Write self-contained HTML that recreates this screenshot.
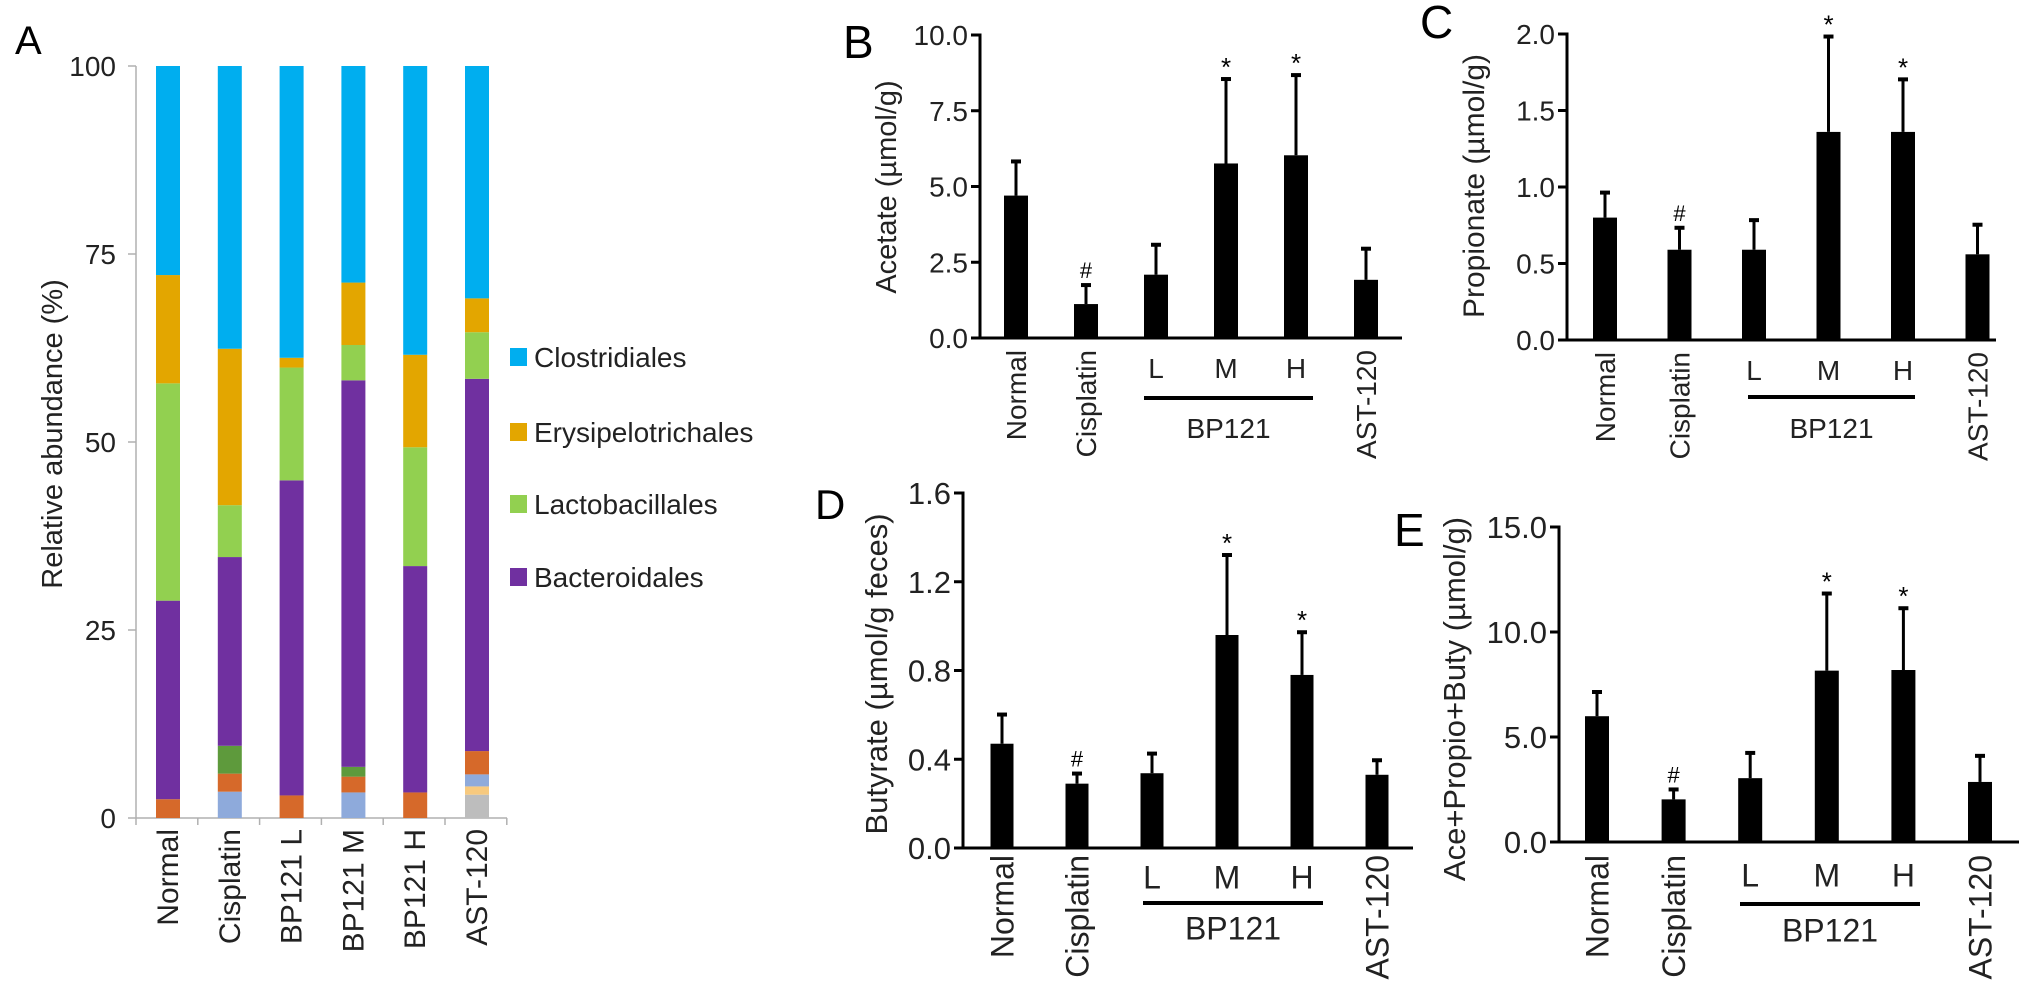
<!DOCTYPE html>
<html><head><meta charset="utf-8">
<style>
html,body{margin:0;padding:0;background:#fff;}
svg{display:block;font-family:"Liberation Sans",Arial,sans-serif;}
</style></head>
<body>
<svg id="fig" width="2032" height="1000" viewBox="0 0 2032 1000" xmlns="http://www.w3.org/2000/svg">
<rect width="2032" height="1000" fill="#fff"/>
</svg>
<script>
// ===== Panel A data (stacked %, bottom to top) =====
const aGroups = ["Normal","Cisplatin","BP121 L","BP121 M","BP121 H","AST-120"];
const aGray      = [0,0,0,0,0,3.1];
const aPeach     = [0,0,0,0,0,1.1];
const aLightBlue = [0,3.5,0,3.4,0,1.6];
const aOrange    = [2.5,2.4,3.0,2.1,3.4,3.1];
const aDarkGreen = [0,3.7,0,1.3,0,0];
const aBacteroidales   = [26.4,25.1,41.9,51.4,30.1,49.5];
const aLactobacillales = [28.9,6.9,15.0,4.7,15.8,6.2];
const aErysipelo       = [14.4,20.8,1.3,8.3,12.3,4.5];
const aClostridiales   = [27.8,37.6,38.8,28.8,38.4,30.9];
const aTicks = [0,25,50,75,100];
const aLegend = ["Clostridiales","Erysipelotrichales","Lactobacillales","Bacteroidales"];

// ===== Panels B-E data =====
const barGroups = ["Normal","Cisplatin","L","M","H","AST-120"];
const bMeans = [4.7,1.12,2.09,5.76,6.03,1.92];
const bErr   = [5.86,1.78,3.11,8.58,8.71,2.98];
const bMarks = ["","#","","*","*",""];
const bTicks = [0,2.5,5,7.5,10];
const bTickLabels = ["0.0","2.5","5.0","7.5","10.0"];

const cMeans = [0.80,0.59,0.59,1.36,1.36,0.56];
const cErr   = [0.97,0.74,0.79,1.99,1.71,0.76];
const cMarks = ["","#","","*","*",""];
const cTicks = [0,0.5,1,1.5,2];
const cTickLabels = ["0.0","0.5","1.0","1.5","2.0"];

const dMeans = [0.47,0.29,0.337,0.96,0.78,0.33];
const dErr   = [0.606,0.34,0.43,1.325,0.977,0.40];
const dMarks = ["","#","","*","*",""];
const dTicks = [0,0.4,0.8,1.2,1.6];
const dTickLabels = ["0.0","0.4","0.8","1.2","1.6"];

const eMeans = [5.99,2.03,3.04,8.16,8.19,2.86];
const eErr   = [7.19,2.55,4.29,11.88,11.18,4.15];
const eMarks = ["","#","","*","*",""];
const eTicks = [0,5,10,15];
const eTickLabels = ["0.0","5.0","10.0","15.0"];

const NS="http://www.w3.org/2000/svg";
const svg=document.getElementById('fig');
function mk(tag,attrs,parent){const e=document.createElementNS(NS,tag);for(const k in attrs)e.setAttribute(k,attrs[k]);(parent||svg).appendChild(e);return e;}

// ===== Panel A =====
(function(){
  const g=mk('g',{});
  
  
  const ax=136, y0=818, y100=66, x0=137, step=61.8, bw=24;
  const yA=v=>y0-(y100-y0)*-v/100;
  const xA=i=>168+i*step;
  const L=mk('text',{x:15,y:54,'font-size':40,fill:'#000'},g);L.textContent='A';
  
  
  const yl=mk('line',{x1:ax,y1:y100,x2:ax,y2:y0,stroke:'#b0b0b0','stroke-width':1.5},g);
  
  
  const xl=mk('line',{x1:ax,y1:y0,x2:507,y2:y0,stroke:'#b0b0b0','stroke-width':1.5},g);
  
  
  aTicks.forEach(t=>{
    const y=yA(t);
    mk('line',{x1:ax-8,y1:y,x2:ax,y2:y,stroke:'#b0b0b0','stroke-width':1.5},g);
    const tx=mk('text',{x:116,y:y+10,'font-size':28,'text-anchor':'end',fill:'#222'},g);tx.textContent=t;
    
    
  });
  for(let i=0;i<=aGroups.length;i++){const x=ax+i*step;mk('line',{x1:x,y1:y0,x2:x,y2:y0+7,stroke:'#b0b0b0','stroke-width':1.5},g);}
  const yt=mk('text',{transform:'translate(62,434) rotate(-90)','font-size':29,'text-anchor':'middle',fill:'#222'},g);
  yt.textContent='Relative abundance (%)';
  
  
  const series=[[aGray,'#bdbdbd'],[aPeach,'#f7c97e'],[aLightBlue,'#8eaadb'],[aOrange,'#d6692a'],[aDarkGreen,'#5e9a3c'],[aBacteroidales,'#7030a0'],[aLactobacillales,'#92d050'],[aErysipelo,'#e3a600'],[aClostridiales,'#00aeef']];
  aGroups.forEach((name,i)=>{
    let cum=0;
    series.forEach(([arr,col])=>{
      const v=arr[i]; if(v<=0)return;
      const r=mk('rect',{x:xA(i)-bw/2,y:yA(cum+v),width:bw,height:yA(cum)-yA(cum+v),fill:col},g);
      
      
      cum+=v;
    });
    const t=mk('text',{transform:`translate(${xA(i)+10},829) rotate(-90)`,'font-size':30,'text-anchor':'end',fill:'#222'},g);
    t.textContent=name;
    
    
  });
  const lc=['#00aeef','#e3a600','#92d050','#7030a0'];
  const ly=[357,432,504,577];
  aLegend.forEach((n,i)=>{
    const lg=mk('g',{},g);
    
    
    mk('rect',{x:510,y:ly[i]-9,width:17,height:18,fill:lc[i]},lg);
    const t=mk('text',{x:534,y:ly[i]+10,'font-size':28,fill:'#222'},lg);t.textContent=n;
  });
})();

// ===== Bar panels =====
function barPanel(cfg,means,errs,marks,ticks,tickLabels){
  const g=mk('g',{});
  
  
  const y=v=>cfg.y0-(cfg.y0-cfg.yTop)*v/cfg.max;
  const x=i=>cfg.x0+i*cfg.step;
  const L=mk('text',{x:cfg.lx,y:cfg.ly,'font-size':cfg.lf,fill:'#000'},g);L.textContent=cfg.letter;
  
  
  const ya=mk('line',{x1:cfg.ax,y1:cfg.yTop-1.5,x2:cfg.ax,y2:cfg.y0,stroke:'#000','stroke-width':3},g);
  
  
  const xa=mk('line',{x1:cfg.ax-8,y1:cfg.y0,x2:cfg.xEnd,y2:cfg.y0,stroke:'#000','stroke-width':3},g);
  
  
  ticks.forEach((t,k)=>{
    const yy=y(t);
    mk('line',{x1:cfg.ax-9,y1:yy,x2:cfg.ax,y2:yy,stroke:'#000','stroke-width':3},g);
    const tx=mk('text',{x:cfg.ax-12,y:yy+cfg.tf*0.36,'font-size':cfg.tf,'text-anchor':'end',fill:'#222'},g);
    tx.textContent=tickLabels[k];
    
    
  });
  const yt=mk('text',{transform:`translate(${cfg.tx},${cfg.ty}) rotate(-90)`,'font-size':cfg.titleF,'text-anchor':'middle',fill:'#222'},g);
  yt.textContent=cfg.title;
  
  
  means.forEach((m,i)=>{
    const cx=x(i);
    const b=mk('rect',{x:cx-cfg.bw/2,y:y(m),width:cfg.bw,height:cfg.y0-y(m),fill:'#000'},g);
    
    
    const e=mk('line',{x1:cx,y1:y(m),x2:cx,y2:y(errs[i]),stroke:'#000','stroke-width':3},g);
    
    
    mk('line',{x1:cx-5,y1:y(errs[i])+1,x2:cx+5,y2:y(errs[i])+1,stroke:'#000','stroke-width':4},g);
    if(marks[i]){
      const s=mk('text',{x:cx,y:y(errs[i])-(marks[i]==='*'?2:6),'font-size':marks[i]==='*'?26:22,'text-anchor':'middle',fill:'#000'},g);
      s.textContent=marks[i];
      
      
    }
    if(i>=2&&i<=4){
      const t=mk('text',{x:cx,y:cfg.lmhY+cfg.xf*0.36,'font-size':cfg.xf,'text-anchor':'middle',fill:'#222'},g);
      t.textContent=barGroups[i];
      
      
    } else {
      const t=mk('text',{transform:`translate(${cx+cfg.xf*0.36},${cfg.rotTop}) rotate(-90)`,'font-size':cfg.xf,'text-anchor':'end',fill:'#222'},g);
      t.textContent=barGroups[i];
      
      
    }
  });
  const gl=mk('line',{x1:cfg.gl1,y1:cfg.glY,x2:cfg.gl2,y2:cfg.glY,stroke:'#000','stroke-width':4},g);
  
  
  const gt=mk('text',{x:(cfg.gl1+cfg.gl2)/2,y:cfg.bpY+cfg.xf*0.36,'font-size':cfg.xf,'text-anchor':'middle',fill:'#222'},g);
  gt.textContent='BP121';
  
  
}

barPanel({name:'panel-b',letter:'B',lx:843,ly:58,lf:46,ax:980,yTop:35,y0:338,max:10,x0:1016,step:70,bw:24,xEnd:1402,
  tf:28,titleF:29,title:'Acetate (\u00b5mol/g)',tx:896,ty:187,xf:28,lmhY:368,rotTop:350,gl1:1144,gl2:1313,glY:398,bpY:428},
  bMeans,bErr,bMarks,bTicks,bTickLabels);
barPanel({name:'panel-c',letter:'C',lx:1420,ly:38,lf:46,ax:1567,yTop:34,y0:340,max:2,x0:1605,step:74.5,bw:24,xEnd:1996,
  tf:28,titleF:30,title:'Propionate (\u00b5mol/g)',tx:1484,ty:186,xf:28,lmhY:370,rotTop:352,gl1:1748,gl2:1915,glY:397,bpY:428},
  cMeans,cErr,cMarks,cTicks,cTickLabels);
barPanel({name:'panel-d',letter:'D',lx:815,ly:519,lf:42,ax:963,yTop:493,y0:848,max:1.6,x0:1002,step:75,bw:23,xEnd:1413,
  tf:31,titleF:31,title:'Butyrate (\u00b5mol/g feces)',tx:887,ty:674,xf:32,lmhY:877,rotTop:855,gl1:1143,gl2:1323,glY:903,bpY:928},
  dMeans,dErr,dMarks,dTicks,dTickLabels);
barPanel({name:'panel-e',letter:'E',lx:1394,ly:546,lf:46,ax:1559,yTop:527,y0:842,max:15,x0:1597,step:76.6,bw:24,xEnd:2019,
  tf:31,titleF:31,title:'Ace+Propio+Buty (\u00b5mol/g)',tx:1465,ty:699,xf:32,lmhY:875,rotTop:855,gl1:1740,gl2:1920,glY:904,bpY:930},
  eMeans,eErr,eMarks,eTicks,eTickLabels);
</script>
</body></html>
